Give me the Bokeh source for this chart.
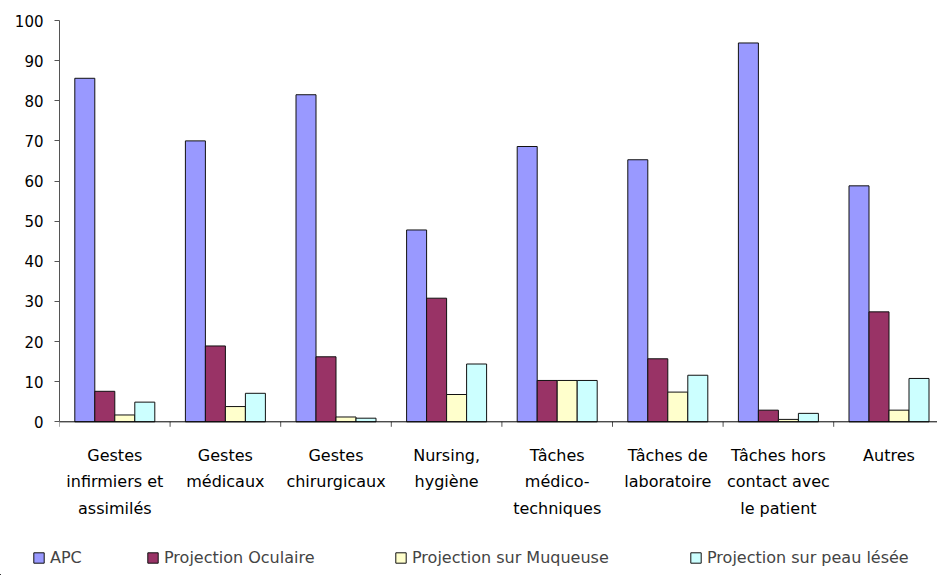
from bokeh.plotting import figure
from bokeh.models import (ColumnDataSource, Range1d, FixedTicker, Legend, LegendItem, Span)
from bokeh.layouts import column, row
from bokeh.transform import dodge
from bokeh.core.properties import value
from bokeh.embed import file_html
from bokeh.resources import INLINE

categories = [
    "Gestes\ninfirmiers et\nassimilés",
    "Gestes\nmédicaux",
    "Gestes\nchirurgicaux",
    "Nursing,\nhygiène",
    "Tâches\nmédico-\ntechniques",
    "Tâches de\nlaboratoire",
    "Tâches hors\ncontact avec\nle patient",
    "Autres",
]
apc = [85.6, 70.0, 81.5, 47.8, 68.6, 65.3, 94.4, 58.8]
oculaire = [7.6, 18.9, 16.2, 30.8, 10.3, 15.7, 2.9, 27.4]
muqueuse = [1.7, 3.8, 1.2, 6.8, 10.3, 7.4, 0.6, 2.9]
peau = [4.9, 7.1, 0.9, 14.4, 10.3, 11.6, 2.1, 10.8]
series_names = ["APC", "Projection Oculaire", "Projection sur Muqueuse", "Projection sur peau lésée"]
series_colors = ["#9999FF", "#993366", "#FFFFCC", "#CCFFFF"]
y_ticks = list(range(0, 101, 10))

FONT = "DejaVu Sans"
n = len(categories)
centers = [i + 0.5 for i in range(n)]
boundaries = list(range(n))

src = ColumnDataSource(dict(x=centers, cat=categories, apc=apc, oculaire=oculaire,
                            muqueuse=muqueuse, peau=peau))

px_per_unit = 401.3 / 100.0
frame_h = 520
frame_w = 878
cat_px = 110.6
y_bottom = 100 - frame_h / px_per_unit

p = figure(width=937, height=540, output_backend="svg", toolbar_location=None,
           x_range=Range1d(0, frame_w / cat_px), y_range=Range1d(y_bottom, 100),
           x_axis_location=None, min_border_left=59, min_border_right=0,
           min_border_top=20, min_border_bottom=0)
p.outline_line_color = None
p.xgrid.visible = False
p.ygrid.visible = False
p.background_fill_color = "white"
p.border_fill_color = "white"

yax = p.yaxis[0]
yax.ticker = FixedTicker(ticks=y_ticks)
yax.bounds = (0, 100)
yax.major_tick_out = 5
yax.major_tick_in = 0
yax.minor_tick_out = 0
yax.minor_tick_in = 0
yax.major_label_standoff = 11
yax.major_label_text_font = FONT
yax.major_label_text_font_size = "15px"
yax.major_label_text_color = "black"
yax.axis_line_color = "#555555"
yax.major_tick_line_color = "#555555"

# baseline and category separators
p.add_layout(Span(location=0, dimension="width", line_color="black", line_width=1))
tick_len = 5 / px_per_unit
p.segment(x0=boundaries, y0=[0] * n, x1=boundaries, y1=[-tick_len] * n,
          line_color="#555555", line_width=1)

bar_w = 20 / cat_px
offsets = [-1.5 * bar_w, -0.5 * bar_w, 0.5 * bar_w, 1.5 * bar_w]
fields = ["apc", "oculaire", "muqueuse", "peau"]
for f, off, col in zip(fields, offsets, series_colors):
    p.vbar(x=dodge("x", off), top=f, bottom=0, width=bar_w, source=src,
           fill_color=col, line_color="#111111", line_width=1)

p.text(x="x", y=-24.0 / px_per_unit, text="cat", source=src,
       text_font=value(FONT), text_font_size="16px", text_color="black",
       text_align="center", text_baseline="top", text_line_height=1.4)

# legend strip below the chart
p2 = figure(width=937, height=35, output_backend="svg", toolbar_location=None,
            x_range=Range1d(0, 937), y_range=Range1d(0, 35),
            x_axis_location=None, y_axis_location=None,
            min_border_left=0, min_border_right=0, min_border_top=0, min_border_bottom=0)
p2.outline_line_color = None
p2.xgrid.visible = False
p2.ygrid.visible = False
p2.border_fill_color = "white"

legend_x = [32, 146, 394, 689]
for nm, col, lx in zip(series_names, series_colors, legend_x):
    r = p2.vbar(x=[-1000], top=[1], width=1, fill_color=col, line_color="#111111", line_width=1)
    lg = Legend(items=[LegendItem(label=nm, renderers=[r])], location=(lx, 8),
                glyph_width=13, glyph_height=13, label_standoff=5,
                padding=0, margin=0, label_text_font=FONT, label_text_font_size="16px",
                label_height=20, border_line_color=None, background_fill_alpha=0)
    p2.add_layout(lg, "center")

layout = column(p, row(p2, spacing=0), spacing=0)
open("out.html", "w").write(file_html(layout, INLINE))
